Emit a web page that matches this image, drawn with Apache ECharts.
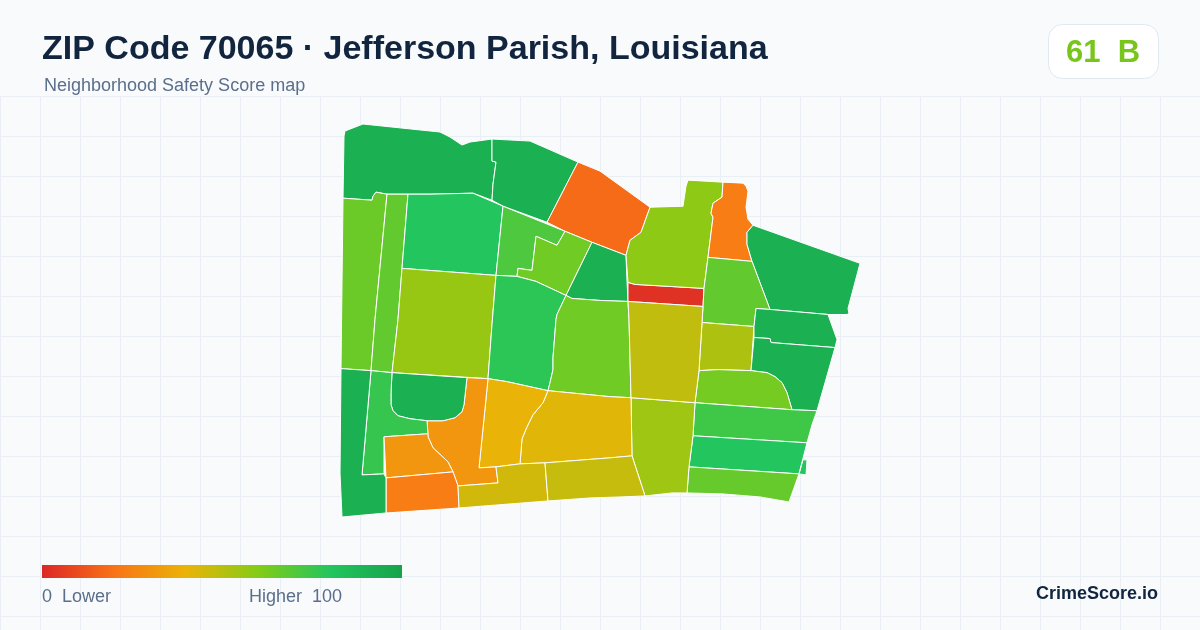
<!DOCTYPE html>
<html>
<head>
<meta charset="utf-8">
<title>ZIP Code 70065</title>
<script src="https://cdn.jsdelivr.net/npm/echarts@6/dist/echarts.min.js"></script>
<style>
  html, body { margin: 0; padding: 0; background: #f8fafc; }
  #main { width: 1200px; height: 630px; }
</style>
</head>
<body>
<div id="main"></div>
<script>
// neighborhoods, one score per shape
const areaNames = ['a1','a2','a3','a4','a5','a6','a7','a8','a9','a10','a11','a12','a13','a14','a15','a16','a17','a18',
  'a19','a20','a21','a22','a23','a24','a25','a26','a27','a28','a29','a30','a31','a32','a33','a34','a35','a36'];
const areaScores = [92, 92, 18, 65, 67, 80, 56, 71, 64, 92, 78, 64, 3, 58, 23, 92, 67, 52,
  92, 92, 63, 74, 80, 66, 55, 48, 42, 40, 31, 92, 76, 31, 23, 92, 45, 47];

// boundaries of the neighborhoods, in map units
const areaRings = [
  [[[344,137],[345,132],[363,125],[440,133],[450,138],[462,146],[470,143],[492,140],[492,162],[496,163],[493,185],[492,201],[473,194],[430,195],[387,195],[376,193],[373,197],[372,201],[343,199]]],
  [[[492,140],[530,142],[578,163],[547,223],[503,207],[492,201],[493,185],[496,163],[492,162]]],
  [[[578,163],[600,172],[650,208],[641,233],[630,241],[626,256],[592,243],[565,232],[547,223]]],
  [[[343,199],[372,201],[373,197],[376,193],[387,195],[375,320],[371,371],[341,369]]],
  [[[387,195],[408,195],[402,269],[398,320],[392,373],[371,371],[375,320]]],
  [[[408,195],[430,195],[473,194],[503,207],[496,276],[402,269]]],
  [[[402,269],[496,276],[492,325],[488,379],[392,373],[398,320]]],
  [[[503,207],[565,232],[557,246],[536,237],[532,271],[518,269],[517,277],[496,276]]],
  [[[565,232],[592,243],[566,296],[536,282],[517,277],[518,269],[532,271],[536,237],[557,246]]],
  [[[592,243],[626,256],[627,282],[628,302],[600,301],[572,299],[566,296]]],
  [[[496,276],[517,277],[536,282],[566,296],[557,315],[556,320],[553,358],[553,370],[550,383],[548,391],[507,382],[488,379],[492,325]]],
  [[[566,296],[572,299],[600,301],[628,302],[629,320],[631,398],[610,397],[548,391],[550,383],[553,370],[553,358],[556,320],[557,315]]],
  [[[628,283],[635,285],[704,289],[703,307],[628,302]]],
  [[[650,208],[683,207],[686,187],[688,181],[723,183],[722,198],[713,204],[711,214],[713,218],[708,258],[704,289],[635,285],[628,283],[626,256],[630,241],[641,233]]],
  [[[723,183],[743,184],[746,187],[748,192],[746,208],[748,220],[753,226],[747,233],[747,245],[752,262],[708,258],[713,218],[711,214],[713,204],[722,198]]],
  [[[753,226],[860,264],[848,309],[849,314],[847,315],[828,315],[770,310],[752,262],[747,245],[747,233]]],
  [[[708,258],[752,262],[770,310],[756,309],[754,327],[702,323],[703,307],[704,289]]],
  [[[702,323],[754,327],[751,371],[718,370],[699,371]]],
  [[[756,309],[770,310],[828,315],[837,340],[835,348],[771,343],[770,339],[754,338],[754,327]]],
  [[[754,338],[770,339],[771,343],[835,348],[817,411],[792,410],[787,393],[782,383],[775,377],[767,373],[751,371]]],
  [[[699,371],[718,370],[751,371],[767,373],[775,377],[782,383],[787,393],[792,410],[695,403]]],
  [[[695,403],[792,410],[817,411],[812,425],[807,443],[693,436]]],
  [[[693,436],[807,443],[799,474],[689,467]], [[803,460],[807,460],[806,475],[799,474]]],
  [[[689,467],[799,474],[789,502],[760,497],[723,494],[687,493]]],
  [[[631,398],[695,403],[693,436],[689,467],[687,493],[672,493],[645,496],[632,456]]],
  [[[628,302],[703,307],[702,323],[699,371],[695,403],[631,398],[629,320]]],
  [[[548,391],[610,397],[631,398],[632,456],[610,458],[545,463],[520,464],[522,439],[527,427],[533,415],[543,403]]],
  [[[488,379],[507,382],[548,391],[543,403],[533,415],[527,427],[522,439],[520,464],[496,467],[479,468]]],
  [[[467,378],[488,379],[479,468],[496,467],[498,483],[458,486],[453,472],[448,462],[433,448],[428,437],[427,421],[443,421],[455,418],[462,412],[464,405]]],
  [[[392,373],[467,378],[464,405],[462,412],[455,418],[443,421],[427,421],[410,419],[398,416],[393,411],[391,405],[391,393]]],
  [[[371,371],[392,373],[391,393],[391,405],[393,411],[398,416],[410,419],[427,421],[428,434],[384,437],[384,474],[362,475]]],
  [[[384,437],[428,434],[428,437],[433,448],[448,462],[453,472],[386,478]]],
  [[[386,478],[453,472],[458,486],[459,508],[386,513]]],
  [[[341,369],[371,371],[362,475],[384,474],[386,478],[386,513],[342,517],[340,473]]],
  [[[458,486],[498,483],[496,467],[520,464],[545,463],[548,501],[459,508]]],
  [[[545,463],[610,458],[632,456],[645,496],[620,497],[590,498],[548,501]]]
];

const scaleColors = ['#dc2626', '#f97316', '#eab308', '#84cc16', '#22c55e', '#16a34a'];

const zipGeo = {
  type: 'FeatureCollection',
  features: areaNames.map((name, i) => ({
    type: 'Feature',
    properties: { name: name },
    // a ring list with a stray second piece is a multipolygon
    geometry: areaRings[i].length > 1
      ? { type: 'MultiPolygon', coordinates: areaRings[i].map(r => [r]) }
      : { type: 'Polygon', coordinates: areaRings[i] }
  }))
};
echarts.registerMap('zip70065', zipGeo);

const myChart = echarts.init(document.getElementById('main'));
const labelFont = 'Liberation Sans, Arial, sans-serif';

// visualMap clips its own bar with round corners, the legend bar is drawn here
const scaleStops = scaleColors.map((color, i) => ({ offset: i / (scaleColors.length - 1), color: color }));

const option = {
  backgroundColor: '#f8fafc',
  animation: false,
  grid: { left: 0, right: 0, top: 96, bottom: 0 },
  xAxis: {
    type: 'value', min: 0, max: 1200, interval: 40,
    axisLine: { show: false }, axisTick: { show: false }, axisLabel: { show: false },
    splitLine: { show: true, lineStyle: { color: '#e9eff4', width: 1 } }
  },
  yAxis: {
    type: 'value', min: 0, max: 534, interval: 40, inverse: true,
    axisLine: { show: false }, axisTick: { show: false }, axisLabel: { show: false },
    splitLine: { show: true, lineStyle: { color: '#e9eff4', width: 1 } }
  },
  visualMap: {
    type: 'continuous',
    show: false,
    min: 0, max: 100,
    seriesIndex: 0,
    inRange: { color: scaleColors }
  },
  series: [{
    type: 'map',
    map: 'zip70065',
    projection: { project: p => p, unproject: p => p },
    left: 340, top: 124, width: 520, height: 393,
    silent: true,
    roam: false,
    label: { show: false },
    itemStyle: { borderColor: '#ffffff', borderWidth: 1 },
    emphasis: { disabled: true },
    select: { disabled: true },
    data: areaNames.map((name, i) => ({ name: name, value: areaScores[i] }))
  }],
  graphic: [
    { type: 'text', z: 100, left: 42, top: 33, style: { text: 'ZIP Code 70065 · Jefferson Parish, Louisiana', font: 'bold 34px ' + labelFont, fill: '#11253f' } },
    { type: 'text', z: 100, left: 44, top: 77, style: { text: 'Neighborhood Safety Score map', font: '18px ' + labelFont, fill: '#5b6f8c' } },
    { type: 'rect', z: 100, shape: { x: 1048.5, y: 24.5, width: 110, height: 54, r: 14 }, style: { fill: '#ffffff', stroke: '#e2e8f0', lineWidth: 1 } },
    { type: 'text', z: 101, left: 1066, top: 38, style: { text: '61  B', font: 'bold 31px ' + labelFont, fill: '#78c61c' } },
    { type: 'rect', z: 100, shape: { x: 42, y: 565, width: 360, height: 13 }, style: { fill: new echarts.graphic.LinearGradient(0, 0, 1, 0, scaleStops) } },
    { type: 'text', z: 100, left: 42, top: 588, style: { text: '0  Lower', font: '18px ' + labelFont, fill: '#5b6f8c' } },
    { type: 'text', z: 100, left: 249, top: 588, style: { text: 'Higher  100', font: '18px ' + labelFont, fill: '#5b6f8c' } },
    { type: 'text', z: 100, left: 1036, top: 585, style: { text: 'CrimeScore.io', font: 'bold 18px ' + labelFont, fill: '#11253f' } }
  ]
};
myChart.setOption(option);
window.addEventListener('resize', () => {
  if (myChart) {
    myChart.resize();
  }
});
</script>
</body>
</html>
